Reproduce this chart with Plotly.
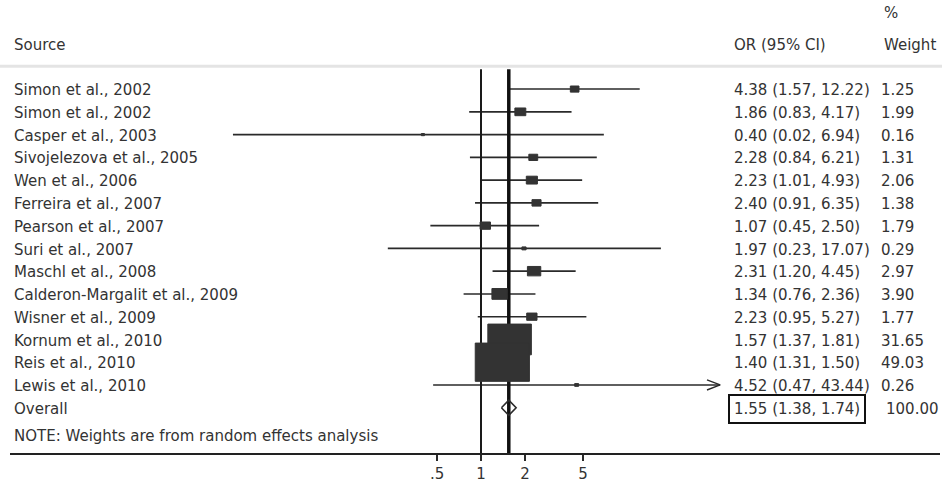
import numpy as np
import plotly.graph_objects as go

# ---------------- data ----------------
studies = ["Simon et al., 2002", "Simon et al., 2002", "Casper et al., 2003",
           "Sivojelezova et al., 2005", "Wen et al., 2006", "Ferreira et al., 2007",
           "Pearson et al., 2007", "Suri et al., 2007", "Maschl et al., 2008",
           "Calderon-Margalit et al., 2009", "Wisner et al., 2009", "Kornum et al., 2010",
           "Reis et al., 2010", "Lewis et al., 2010"]
odds_ratio = [4.38, 1.86, 0.40, 2.28, 2.23, 2.40, 1.07, 1.97, 2.31, 1.34, 2.23, 1.57, 1.40, 4.52]
ci_lower = [1.57, 0.83, 0.02, 0.84, 1.01, 0.91, 0.45, 0.23, 1.20, 0.76, 0.95, 1.37, 1.31, 0.47]
ci_upper = [12.22, 4.17, 6.94, 6.21, 4.93, 6.35, 2.50, 17.07, 4.45, 2.36, 5.27, 1.81, 1.50, 43.44]
weights = [1.25, 1.99, 0.16, 1.31, 2.06, 1.38, 1.79, 0.29, 2.97, 3.90, 1.77, 31.65, 49.03, 0.26]
arrow_right = [False] * 13 + [True]

overall_label = "Overall"
overall_or = 1.55
overall_lower = 1.38
overall_upper = 1.74
overall_weight = 100.00

tick_vals = [0.5, 1, 2, 5]
tick_text = [".5", "1", "2", "5"]
note_text = "NOTE: Weights are from random effects analysis"

# ---------------- styling ----------------
W, H = 942, 483
FONT = "DejaVu Sans"
FS = 15
TXT = "#333333"
INK = "#2a2a2a"

n = len(studies)
rows = list(range(n))
overall_row = n
lx = np.log10(odds_ratio)
llo = np.log10(ci_lower)
lhi = np.log10(ci_upper)

fig = go.Figure()

# CI lines
xs, ys = [], []
for i in rows:
    xs += [llo[i], lhi[i], None]
    ys += [i, i, None]
fig.add_trace(go.Scatter(x=xs, y=ys, mode="lines", line=dict(color=INK, width=1.6),
                         hoverinfo="skip", showlegend=False))

# arrowheads for truncated CIs
ax_, ay_ = [], []
for i in rows:
    if arrow_right[i]:
        ax_ += [lhi[i] - 0.09, lhi[i], lhi[i] - 0.09, None]
        ay_ += [i - 0.22, i, i + 0.22, None]
fig.add_trace(go.Scatter(x=ax_, y=ay_, mode="lines", line=dict(color=INK, width=1.4),
                         hoverinfo="skip", showlegend=False))

# null line and overall line
y_top = -0.87
y_bot = 16.0
fig.add_trace(go.Scatter(x=[0, 0], y=[y_top, y_bot], mode="lines",
                         line=dict(color="#1a1a1a", width=2), hoverinfo="skip", showlegend=False))
fig.add_trace(go.Scatter(x=[np.log10(overall_or)] * 2, y=[y_top, y_bot], mode="lines",
                         line=dict(color="#111111", width=3.5), hoverinfo="skip", showlegend=False))

# overall diamond
o, ol, ou = np.log10(overall_or), np.log10(overall_lower), np.log10(overall_upper)
fig.add_trace(go.Scatter(x=[ol, o, ou, o, ol], y=[overall_row, overall_row - 0.33, overall_row,
                                                  overall_row + 0.33, overall_row],
                         mode="lines", line=dict(color=INK, width=1.6),
                         hoverinfo="skip", showlegend=False))

shapes = []
# weight boxes
for i in rows:
    s = np.sqrt(weights[i])
    hw = 0.0265 * s
    hh = 0.12 * s
    shapes.append(dict(type="rect", xref="x", yref="y",
                       x0=lx[i] - hw, x1=lx[i] + hw, y0=i - hh, y1=i + hh,
                       fillcolor="#333333", line=dict(color="#333333", width=1), layer="above"))

# header divider
shapes.append(dict(type="line", xref="paper", yref="y", x0=0, x1=1, y0=-1, y1=-1,
                   line=dict(color="#e4e4e4", width=3)))

annotations = []
def txt(x_px, y_row, text, **kw):
    d = dict(x=x_px / W, xref="paper", y=y_row + 0.05, yref="y", text=text, showarrow=False,
             xanchor="left", yanchor="middle", font=dict(family=FONT, size=FS, color=TXT))
    d.update(kw)
    annotations.append(d)

# headers
txt(12, -2, "Source")
txt(732, -2, "OR (95% CI)")
txt(882, -2, "Weight")
txt(882, -3.39, "%")

for i in rows:
    txt(12, i, studies[i])
    txt(732, i, f"{odds_ratio[i]:.2f} ({ci_lower[i]:.2f}, {ci_upper[i]:.2f})")
    txt(879, i, f"{weights[i]:.2f}")

txt(12, overall_row, overall_label)
txt(728, overall_row, f"{overall_or:.2f} ({overall_lower:.2f}, {overall_upper:.2f})",
    bordercolor="#111111", borderwidth=2, borderpad=4)
txt(884, overall_row, f"{overall_weight:.2f}")

txt(12, 15.2, note_text)

fig.update_layout(
    width=W, height=H, margin=dict(l=0, r=0, t=0, b=0),
    paper_bgcolor="white", plot_bgcolor="white",
    shapes=shapes, annotations=annotations, showlegend=False,
    xaxis=dict(domain=[10 / W, 940 / W], range=[(10 - 481) / 146, (940 - 481) / 146],
               tickmode="array", tickvals=list(np.log10(tick_vals)), ticktext=tick_text,
               ticks="outside", ticklen=6, tickwidth=1.5, tickcolor=INK,
               showline=True, linewidth=2, linecolor="#222222",
               showgrid=False, zeroline=False, fixedrange=True,
               tickfont=dict(family=FONT, size=FS, color=TXT)),
    yaxis=dict(domain=[(H - 458) / H, 1], range=[16.0, -90 / 23], visible=False,
               showgrid=False, zeroline=False, fixedrange=True),
)

fig.write_html("out.html")
